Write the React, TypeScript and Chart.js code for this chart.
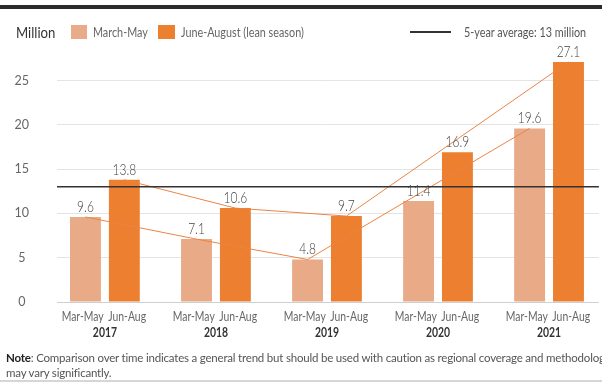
import React, { useEffect, useRef } from 'react';
import { Chart, registerables } from 'chart.js';

Chart.register(...registerables);

// ---- data ----
const years = ['2017', '2018', '2019', '2020', '2021'];
const periodLabels = ['Mar-May', 'Jun-Aug'];
const marMay = [9.6, 7.1, 4.8, 11.4, 19.6];
const junAug = [13.8, 10.6, 9.7, 16.9, 27.1];
const trendIncluded = [true, true, true, false, true];
const fiveYearAverage = 13;
const yTicks = [0, 5, 10, 15, 20, 25];
const seriesNames = ['March-May', 'June-August (lean season)'];
const averageLabel = '5-year average: 13 million';
const unitLabel = 'Million';
const noteLead = 'Note';
const noteLine1 = ': Comparison over time indicates a general trend but should be used with caution as regional coverage and methodology';
const noteLine2 = 'may vary significantly.';

// ---- style ----
const FONT = 'Lato, "Noto Sans", sans-serif';
const LIGHT = '#E9AA88';
const DARK = '#EC7F30';
const TREND = '#EA8446';
const CAT_PCT = 0.7;
const BAR_PCT = 0.795;
const OFF = CAT_PCT / 4;
const LABEL_OFF = 0.2;
const X_MIN = -0.4315;
const X_MAX = 4.449;
const Y_MAX = 28;
const CONDENSE = 0.8;
const Y_TICK_SIZE = 12.5;

// narrow the canvas text horizontally (the reference face is a narrow sans)
const condense = {
  id: 'condense',
  beforeInit(chart: any) {
    const ctx = chart.ctx;
    const orig = ctx.fillText.bind(ctx);
    ctx.fillText = (t: string, x: number, y: number, mw?: number) => {
      const sx = String(ctx.font).includes(`${Y_TICK_SIZE}px`) ? 1 : CONDENSE;
      ctx.save();
      ctx.translate(x, y);
      ctx.scale(sx, 1);
      if (mw === undefined || mw === null) orig(t, 0, 0);
      else orig(t, 0, 0, mw / sx);
      ctx.restore();
    };
  },
};

const valueLabels = {
  id: 'valueLabels',
  afterDatasetsDraw(chart: any) {
    const ctx = chart.ctx;
    ctx.save();
    ctx.font = `300 15px ${FONT}`;
    ctx.fillStyle = '#444';
    ctx.textAlign = 'center';
    ctx.textBaseline = 'alphabetic';
    chart.data.datasets.forEach((ds: any, di: number) => {
      if (ds.type !== 'bar') return;
      const meta = chart.getDatasetMeta(di);
      meta.data.forEach((el: any, i: number) => {
        const v = ds.data[i].y;
        ctx.fillText(v.toFixed(1), el.x, el.y - 5);
      });
    });
    ctx.restore();
  },
};

export default function App() {
  const ref = useRef<HTMLCanvasElement>(null);

  useEffect(() => {
    const canvas = ref.current!;
    const chart = new Chart(canvas, {
      data: {
        datasets: [
          {
            type: 'line',
            label: 'avg',
            data: [{ x: X_MIN, y: fiveYearAverage }, { x: X_MAX, y: fiveYearAverage }],
            borderColor: '#333',
            borderWidth: 1.5,
            pointRadius: 0,
            order: 0,
            xAxisID: 'x',
          },
          {
            type: 'line',
            label: 'trend1',
            data: years.map((_, i) => ({ x: i - OFF, y: trendIncluded[i] ? marMay[i] : null })),
            borderColor: TREND,
            borderWidth: 1,
            pointRadius: 0,
            spanGaps: true,
            order: 0,
            xAxisID: 'x',
          },
          {
            type: 'line',
            label: 'trend2',
            data: years.map((_, i) => ({ x: i + OFF, y: trendIncluded[i] ? junAug[i] : null })),
            borderColor: TREND,
            borderWidth: 1,
            pointRadius: 0,
            spanGaps: true,
            order: 0,
            xAxisID: 'x',
          },
          {
            type: 'bar',
            label: seriesNames[0],
            data: years.map((_, i) => ({ x: i, y: marMay[i] })),
            backgroundColor: LIGHT,
            categoryPercentage: CAT_PCT,
            barPercentage: BAR_PCT,
            order: 1,
            xAxisID: 'x',
          },
          {
            type: 'bar',
            label: seriesNames[1],
            data: years.map((_, i) => ({ x: i, y: junAug[i] })),
            backgroundColor: DARK,
            categoryPercentage: CAT_PCT,
            barPercentage: BAR_PCT,
            order: 1,
            xAxisID: 'x',
          },
        ] as any,
      },
      options: {
        responsive: false,
        animation: false,
        devicePixelRatio: 1,
        layout: { padding: { top: 54, right: 2, bottom: 42, left: 0 } },
        plugins: { legend: { display: false }, tooltip: { enabled: false } },
        scales: {
          x: {
            type: 'linear',
            position: 'bottom',
            offset: false,
            weight: 1,
            min: X_MIN,
            max: X_MAX,
            grid: { display: false, drawTicks: false, offset: false },
            border: { display: false },
            afterBuildTicks: (axis: any) => {
              axis.ticks = years.map((_, i) => ({ value: i }));
            },
            afterFit: (s: any) => {
              s.height = 18;
            },
            ticks: {
              autoSkip: false,
              maxRotation: 0,
              padding: 0,
              color: '#333',
              font: { family: FONT, size: 13, weight: 'bold' },
              callback: (_v: any, idx: number) => years[idx],
            },
          },
          xSub: {
            type: 'linear',
            position: 'bottom',
            offset: false,
            weight: 0,
            min: X_MIN,
            max: X_MAX,
            grid: { display: false, drawTicks: false, offset: false },
            border: { display: false },
            afterBuildTicks: (axis: any) => {
              axis.ticks = years.flatMap((_, i) => [{ value: i - LABEL_OFF }, { value: i + LABEL_OFF }]);
            },
            afterFit: (s: any) => {
              s.height = 23;
            },
            ticks: {
              autoSkip: false,
              maxRotation: 0,
              padding: 7,
              color: '#666',
              font: { family: FONT, size: 13 },
              callback: (_v: any, idx: number) => periodLabels[idx % 2],
            },
          },
          y: {
            type: 'linear',
            min: 0,
            max: Y_MAX,
            border: { display: false },
            grid: {
              drawTicks: false,
              color: (c: any) => (c.tick && c.tick.value === 0 ? '#cfcfcf' : '#e4e4e4'),
            },
            afterBuildTicks: (axis: any) => {
              axis.ticks = yTicks.map((v) => ({ value: v }));
            },
            afterFit: (s: any) => {
              s.width = 57;
            },
            ticks: {
              padding: 28,
              crossAlign: 'center',
              color: '#666',
              font: { family: FONT, size: Y_TICK_SIZE },
            },
          },
        } as any,
      },
      plugins: [condense, valueLabels],
    });
    return () => chart.destroy();
  }, []);

  const text = (extra: React.CSSProperties): React.CSSProperties => ({
    position: 'absolute',
    fontFamily: FONT,
    fontSize: 13.5,
    lineHeight: '16px',
    whiteSpace: 'nowrap',
    color: '#666',
    transform: `scaleX(${CONDENSE})`,
    transformOrigin: 'left center',
    ...extra,
  });

  return (
    <div style={{ position: 'absolute', left: 0, top: 0, width: 602, height: 385, overflow: 'hidden', background: '#fff' }}>
      <canvas ref={ref} width={602} height={385} style={{ position: 'absolute', left: 0, top: 0 }} />
      <div style={{ position: 'absolute', left: 0, top: 5, width: 602, height: 4, background: '#2b2b2b' }} />
      <div style={text({ left: 16, top: 23, fontSize: 16, lineHeight: '18px', color: '#333', transform: 'scaleX(0.82)' })}>{unitLabel}</div>
      <div style={{ position: 'absolute', left: 71, top: 25, width: 16, height: 14, background: LIGHT }} />
      <div style={text({ left: 93, top: 24 })}>{seriesNames[0]}</div>
      <div style={{ position: 'absolute', left: 158, top: 25, width: 17, height: 14, background: DARK }} />
      <div style={text({ left: 181, top: 24 })}>{seriesNames[1]}</div>
      <div style={{ position: 'absolute', left: 410, top: 31, width: 41, height: 2, background: '#333' }} />
      <div style={text({ left: 464, top: 24, color: '#555' })}>{averageLabel}</div>
      <div style={text({ left: 6, top: 350, fontSize: 11.5, lineHeight: '15px', color: '#555', transform: 'none', letterSpacing: '-0.2px' })}>
        <b style={{ color: '#222', fontWeight: 700 }}>{noteLead}</b>
        {noteLine1}
        <br />
        {noteLine2}
      </div>
      <div style={{ position: 'absolute', left: 0, top: 380, width: 602, height: 2, background: '#d6d6d6' }} />
    </div>
  );
}
